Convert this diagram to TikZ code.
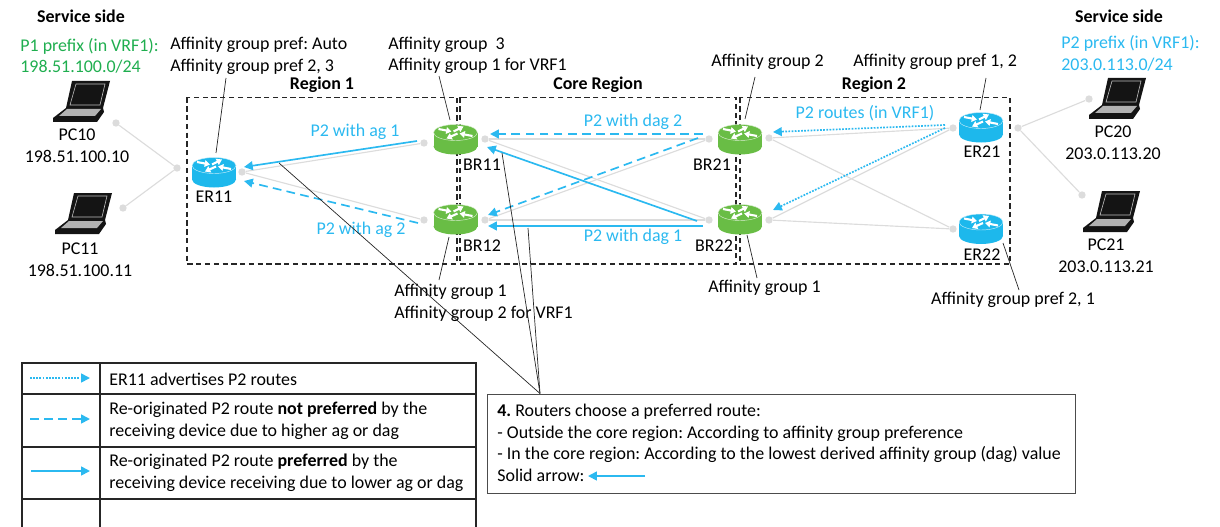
\documentclass[tikz,border=0pt]{standalone}
\usepackage{fontspec}
\setmainfont{Carlito}
\usetikzlibrary{arrows.meta}
\frenchspacing
\definecolor{routeblue}{HTML}{2BB9F0}
\definecolor{routerblue}{HTML}{1DB8EC}
\definecolor{routergreen}{HTML}{69BD45}
\definecolor{prefixgreen}{HTML}{1FAE4F}
\definecolor{linkgrey}{HTML}{DCDCDC}
\tikzset{
    txt/.style={inner sep=0pt, font=\fontsize{10.2}{12.3}\selectfont, align=left},
    bluetxt/.style={txt, text=routeblue},
    head/.style={txt, font=\fontsize{10.2}{12.3}\selectfont\bfseries},
    dot/.style={circle, fill=linkgrey, inner sep=0pt, minimum size=4.2pt},
    link/.style={draw=linkgrey, line width=0.65pt},
    pointer/.style={draw=black!85, line width=0.4pt},
    region/.style={draw=black!85, line width=0.65pt, dash pattern=on 3pt off 2pt},
    route/.style={draw=routeblue, line width=0.95pt, -{Triangle[length=5pt,width=5pt]}},
    routedash/.style={route, dash pattern=on 5pt off 3pt},
    routedot/.style={route, dash pattern=on 1pt off 0.8pt},
    pics/router/.style={code={
        \fill[#1] (-22,-7) rectangle (22,7);
        \fill[#1] (0,7) ellipse[x radius=22, y radius=8];
        \draw[white!75!#1, line width=0.25pt, fill=#1] (0,-7) ellipse[x radius=22, y radius=8];
        \foreach \ax/\ay/\bx/\by in {-17/-10.5/-4/-8, 17/-3.5/4/-6, -2/-8/8/-13, 2/-6/-9/-1}
            \draw[white, line width=1.2pt, -{Triangle[length=3pt,width=3.8pt]}] (\ax,\ay) -- (\bx,\by);
    }},
    pics/laptop/.style={code={
        \fill[black!92] (0,0) -- (38,0) -- (31,27) -- (-6,27) -- cycle;
        \draw[white!75!black, line width=0.35pt] (4,3) -- (33,3) -- (28,24) -- (-2,24) -- cycle;
        \fill[black!92] (-6,27) -- (31,27) -- (32,31) -- (25,41) -- (-19,41) -- (-19,37) -- cycle;
        \fill[black!30] (-5,28) -- (29,28) -- (23,35) -- (-13,35) -- cycle;
    }},
}
\begin{document}
\begin{tikzpicture}[x=0.02cm, y=-0.02cm]
    \useasboundingbox (0,0) rectangle (1220,527);

    % Regions
    \draw[region] (187,97.5) rectangle (457,264);
    \draw[region] (460,97.5) rectangle (736,264);
    \draw[region] (740,97.5) rectangle (1010,264);
    \node[head] (region1) at (322,85) {Region 1};
    \node[head] (coreregion) at (598,85) {Core Region};
    \node[head] (region2) at (874,85) {Region 2};

    % Link ends
    \foreach \name/\x/\y in {pc10d/116/123, pc11d/123/208, er11l/177/168, er11r/242/172,
        br11l/424/143, br11r/485/139, br12l/424/220, br12r/485/220,
        br21l/709/139, br21r/769/138, br22l/709/220, br22r/769/220,
        er21l/953/128, er21r/1018/128, er22l/953/229, pc20d/1089/99, pc21d/1082/195}
    {
        \node[dot] (\name) at (\x,\y) {};
    }

    % Grey links
    \foreach \a/\b in {pc10d/er11l, pc11d/er11l, er11r/br11l, er11r/br12l,
        br11r/br21l, br11r/br22l, br12r/br21l, br12r/br22l,
        br21r/er21l, br21r/er22l, br22r/er21l, br22r/er22l, er21r/pc20d, er21r/pc21d}
    {
        \draw[link] (\a) -- (\b);
    }

    % Routers
    \pic at (214,172.5) {router=routerblue};
    \pic at (455.5,139.5) {router=routergreen};
    \pic at (455.5,219.5) {router=routergreen};
    \pic at (740,139.5) {router=routergreen};
    \pic at (740,219.5) {router=routergreen};
    \pic at (981,127.5) {router=routerblue};
    \pic at (981,229) {router=routerblue};
    \node[txt] (er11) at (214,197) {ER11};
    \node[txt] (br11) at (482,165) {BR11};
    \node[txt] (br12) at (482,246) {BR12};
    \node[txt] (br21) at (712,165) {BR21};
    \node[txt] (br22) at (714,246) {BR22};
    \node[txt] (er21) at (982,152) {ER21};
    \node[txt] (er22) at (982,255) {ER22};

    % Laptops
    \pic at (72,81) {laptop};
    \pic at (74,193) {laptop};
    \pic at (1108,78) {laptop};
    \pic at (1102,191) {laptop};
    \node[txt, align=center] (pc10) at (77,145.5) {PC10\\198.51.100.10};
    \node[txt, align=center] (pc11) at (80,259.5) {PC11\\198.51.100.11};
    \node[txt, align=center] (pc20) at (1113,143) {PC20\\203.0.113.20};
    \node[txt, align=center] (pc21) at (1106,256) {PC21\\203.0.113.21};

    % Service side
    \node[head] (service1) at (81,16) {Service side};
    \node[head] (service2) at (1119,16) {Service side};
    \node[txt, text=prefixgreen, anchor=west] (p1prefix) at (20,56) {P1 prefix (in VRF1):\\198.51.100.0/24};
    \node[bluetxt, anchor=west] (p2prefix) at (1061,53.5) {P2 prefix (in VRF1):\\203.0.113.0/24};

    % Affinity labels
    \node[txt, anchor=west] (ag11) at (170,56) {Affinity group pref: Auto\\Affinity group pref 2, 3};
    \node[txt, anchor=west] (agbr11) at (388,55.5) {Affinity group\ \ 3\\Affinity group 1 for VRF1};
    \node[txt, anchor=west] (agbr12) at (394,303) {Affinity group 1\\Affinity group 2 for VRF1};
    \node[txt, anchor=west] (agbr21) at (711,62) {Affinity group 2};
    \node[txt, anchor=west] (agbr22) at (708,288) {Affinity group 1};
    \node[txt, anchor=west] (ager21) at (853,62) {Affinity group pref 1, 2};
    \node[txt] (ager22) at (1013,300) {Affinity group pref 2, 1};

    % Pointers
    \coordinate (er11p) at (216,153);
    \coordinate (ag11p) at (226,78);
    \draw[pointer] (ag11p) -- (er11p);
    \coordinate (br11p) at (450,120);
    \coordinate (agbr11p) at (439,76);
    \draw[pointer] (agbr11p) -- (br11p);
    \coordinate (br12p) at (449,237);
    \coordinate (agbr12p) at (439,280);
    \draw[pointer] (agbr12p) -- (br12p);
    \coordinate (br21p) at (745,119);
    \coordinate (agbr21p) at (755,77);
    \draw[pointer] (agbr21p) -- (br21p);
    \coordinate (br22p) at (747,235);
    \coordinate (agbr22p) at (757,278);
    \draw[pointer] (agbr22p) -- (br22p);
    \coordinate (er21p) at (980,110);
    \coordinate (ager21p) at (986,78);
    \draw[pointer] (ager21p) -- (er21p);
    \coordinate (er22p) at (1003,243);
    \coordinate (ager22p) at (1019,290);
    \draw[pointer] (ager22p) -- (er22p);

    % Routes
    \coordinate (r1a) at (417,141);  \coordinate (r1b) at (244,167);
    \coordinate (r2a) at (418,223);  \coordinate (r2b) at (244,181);
    \coordinate (r3a) at (703,134);  \coordinate (r3b) at (490,134);
    \coordinate (r4a) at (698,138);  \coordinate (r4b) at (488,215);
    \coordinate (r5a) at (703,226);  \coordinate (r5b) at (488,226);
    \coordinate (r6a) at (697,221);  \coordinate (r6b) at (487,147);
    \coordinate (r7a) at (945,125);  \coordinate (r7b) at (773,132);
    \coordinate (r8a) at (945,128);  \coordinate (r8b) at (773,210);
    \draw[route] (r1a) -- (r1b);
    \draw[routedash] (r2a) -- (r2b);
    \draw[routedash] (r3a) -- (r3b);
    \draw[routedash] (r4a) -- (r4b);
    \draw[route] (r5a) -- (r5b);
    \draw[route] (r6a) -- (r6b);
    \draw[routedot] (r7a) -- (r7b);
    \draw[routedot] (r8a) -- (r8b);
    \node[bluetxt] (ag1) at (355,132) {P2 with ag 1};
    \node[bluetxt] (ag2) at (361,230) {P2 with ag 2};
    \node[bluetxt] (dag2) at (633,122) {P2 with dag 2};
    \node[bluetxt] (dag1) at (633,237) {P2 with dag 1};
    \node[bluetxt] (routes) at (865,113) {P2 routes (in VRF1)};

    % Step box
    \node[draw=black!70, line width=0.45pt, anchor=north west, inner sep=0pt, minimum width=11.76cm,
        minimum height=1.98cm] (stepbox) at (487,394) {};
    \node[txt, anchor=west] (steptxt) at (497,443) {\textbf{4.} Routers choose a preferred route:\\
        - Outside the core region: According to affinity group preference\\
        - In the core region: According to the lowest derived affinity group (dag) value\\
        Solid arrow:};
    \coordinate (stepa) at (540,393.5);
    \coordinate (c1) at (279,163);
    \coordinate (c2) at (502,153);
    \coordinate (c3) at (528,228);
    \foreach \p in {c1,c2,c3}
    {
        \draw[pointer] (stepa) -- (\p);
    }
    \coordinate (sa) at (645,476);
    \coordinate (sb) at (588,476);
    \draw[route] (sa) -- (sb);

    % Legend
    \draw[black!85, line width=0.6pt] (476,527) -- (476,363) -- (22,363) -- (22,527);
    \draw[black!85, line width=0.6pt] (100,363) -- (100,527);
    \foreach \y in {394,447,499}
    {
        \draw[black!85, line width=0.6pt] (22,\y) -- (476,\y);
    }
    \coordinate (l1a) at (30,378);  \coordinate (l1b) at (90,378);
    \coordinate (l2a) at (30,419);  \coordinate (l2b) at (90,419);
    \coordinate (l3a) at (31,471);  \coordinate (l3b) at (90,471);
    \draw[routedot] (l1a) -- (l1b);
    \draw[routedash] (l2a) -- (l2b);
    \draw[route] (l3a) -- (l3b);
    \node[txt, anchor=west] (legend1) at (109,379) {ER11 advertises P2 routes};
    \node[txt, anchor=west] (legend2) at (109,420.5) {Re-originated P2 route \textbf{not preferred} by the\\receiving device due to higher ag or dag};
    \node[txt, anchor=west] (legend3) at (109,473) {Re-originated P2 route \textbf{preferred} by the\\receiving device receiving due to lower ag or dag};
\end{tikzpicture}
\end{document}
